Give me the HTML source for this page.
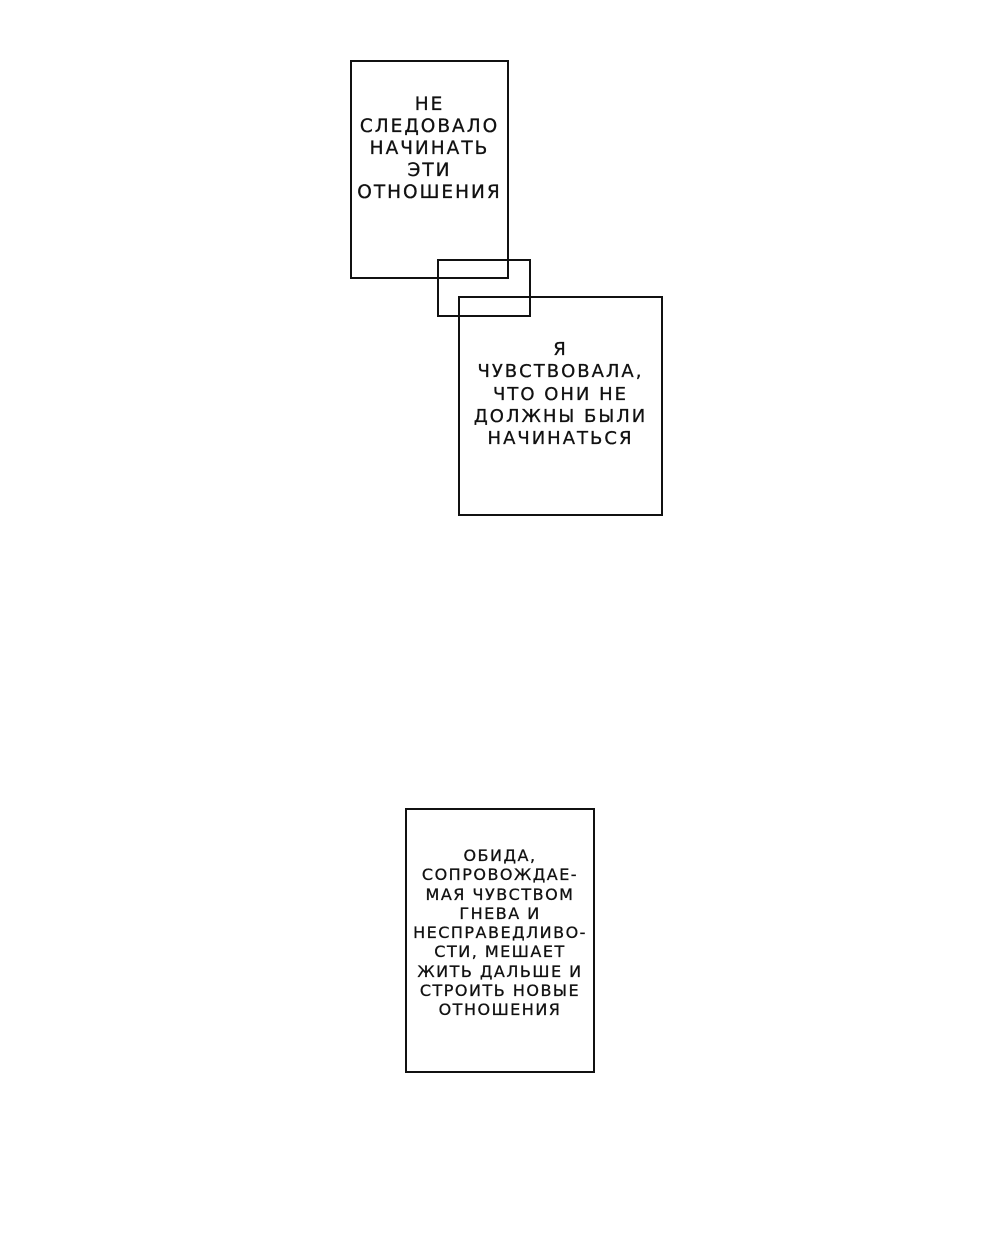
<!DOCTYPE html>
<html><head><meta charset="utf-8"><style>
body{margin:0;width:1000px;height:1250px;background:#fff;position:relative;overflow:hidden;font-family:"DejaVu Sans",sans-serif;color:#111}
.b{position:absolute;border:2px solid #111;box-sizing:border-box;background:transparent}
.t{position:absolute;text-align:center;text-transform:uppercase;white-space:nowrap;-webkit-text-stroke:0.3px #111}
</style></head><body>
<div class="b" style="left:350px;top:60px;width:159px;height:219px"></div>
<div class="b" style="left:437px;top:259px;width:94px;height:58px"></div>
<div class="b" style="left:458px;top:296px;width:205px;height:220px"></div>
<div class="b" style="left:405px;top:808px;width:190px;height:265px"></div>
<div class="t" style="left:331px;width:197px;top:94px;font-size:18.5px;line-height:22px;letter-spacing:2px">Не<br>следовало<br>начинать<br>эти<br>отношения</div>
<div class="t" style="left:440px;width:241px;top:339px;font-size:18px;line-height:22.3px;letter-spacing:2px">Я<br>чувствовала,<br>что они не<br>должны были<br>начинаться</div>
<div class="t" style="left:387px;width:226px;top:846px;font-size:16px;line-height:19.3px;letter-spacing:1.5px">Обида,<br>сопровождае-<br>мая чувством<br>гнева и<br>несправедливо-<br>сти, мешает<br>жить дальше и<br>строить новые<br>отношения</div>
</body></html>
